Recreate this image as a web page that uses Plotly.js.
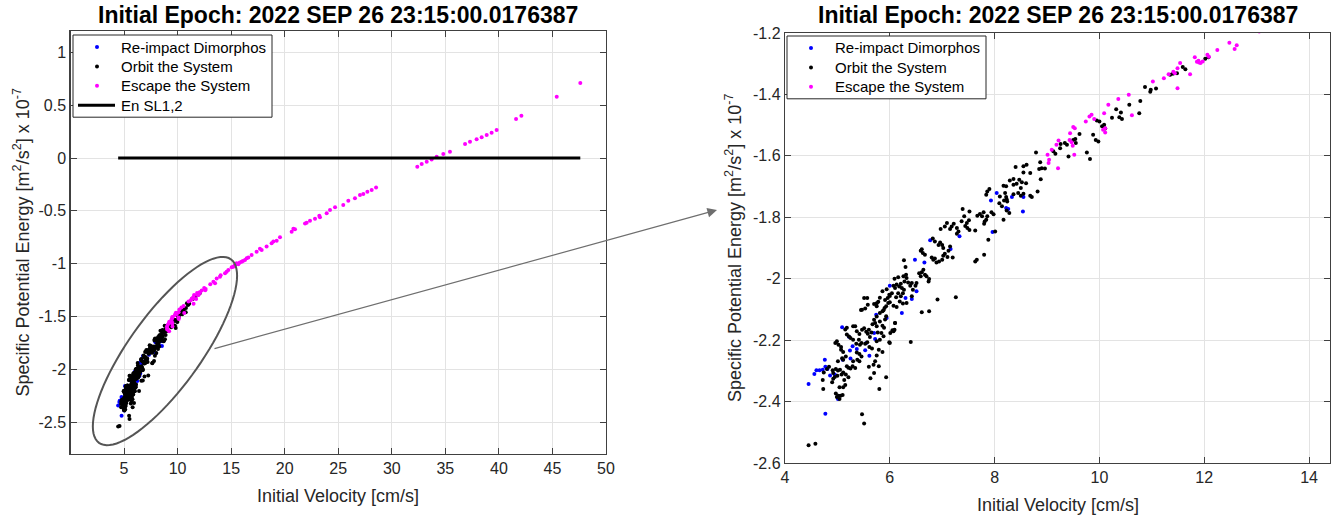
<!DOCTYPE html>
<html>
<head>
<meta charset="utf-8">
<script src="https://cdn.plot.ly/plotly-3.0.1.min.js"></script>
<style>
  html, body { margin: 0; padding: 0; background: #ffffff; }
  #chart { width: 1334px; height: 519px; }
</style>
</head>
<body>
<div id="chart"></div>
<script>
// Initial velocity [cm/s] vs specific potential energy [m^2/s^2] x 1e-7

// Ejecta that re-impact Dimorphos
const reimpactPoints = [
  [4.45,-2.343],[4.56,-2.310],[4.60,-2.298],[4.66,-2.298],[4.72,-2.296],[4.77,-2.287],[4.81,-2.294],
  [4.86,-2.315],[4.76,-2.264],[4.77,-2.440],[5.01,-2.392],[4.95,-2.312],[5.10,-2.264],[5.25,-2.260],
  [5.24,-2.234],[5.29,-2.220],[5.09,-2.158],[5.22,-2.189],[5.37,-2.229],[5.55,-2.209],[5.61,-2.251],
  [5.53,-2.233],[5.72,-2.196],[5.74,-2.117],[5.94,-2.128],[5.70,-2.177],
  [6.77,-1.875],[6.48,-1.938],[6.66,-1.947],[7.33,-1.862],[7.16,-1.903],[6.00,-2.023],[6.30,-2.063],
  [6.42,-2.066],[6.51,-2.041],[6.23,-2.112],[8.04,-1.721],[7.93,-1.745],[7.96,-1.848],[8.26,-1.773],
  [8.33,-1.734],[8.55,-1.734],[8.22,-1.770],[8.54,-1.781]
];

// Ejecta that stay in orbit around the system
const orbitPoints = [
  [4.45,-2.542],[4.58,-2.537],[5.47,-2.441],[5.51,-2.471],[5.80,-2.359],[4.73,-2.359],[4.72,-2.330],
  [4.97,-2.374],[5.02,-2.381],[5.06,-2.381],[4.99,-2.385],[5.04,-2.392],[5.10,-2.379],[5.11,-2.353],
  [5.15,-2.346],[5.04,-2.353],[4.90,-2.337],[4.92,-2.326],[4.95,-2.320],[5.00,-2.316],[5.08,-2.312],
  [5.16,-2.312],[5.21,-2.321],[5.13,-2.330],[5.63,-2.324],[5.70,-2.307],[5.79,-2.285],[5.93,-2.321],
  [5.18,-2.285],[5.21,-2.290],[5.25,-2.292],[5.29,-2.285],[5.30,-2.269],[5.34,-2.291],[5.01,-2.299],
  [5.05,-2.296],[5.11,-2.305],[4.91,-2.298],[4.97,-2.294],[4.74,-2.305],[4.80,-2.294],[4.84,-2.287],
  [4.92,-2.307],[5.09,-2.259],[5.11,-2.264],[5.16,-2.253],[5.01,-2.269],[5.38,-2.264],[5.42,-2.269],
  [5.37,-2.240],[5.42,-2.245],[5.46,-2.253],[5.60,-2.287],[5.69,-2.280],[5.46,-2.209],[5.53,-2.212],
  [5.57,-2.207],[5.61,-2.222],[5.66,-2.227],[5.36,-2.212],[5.43,-2.215],[5.41,-2.199],[5.75,-2.204],
  [5.81,-2.199],[5.79,-2.231],[5.75,-2.250],[5.72,-2.269],[5.86,-2.239],[6.00,-2.209],[4.96,-2.209],
  [4.99,-2.204],[5.07,-2.231],[5.11,-2.239],[5.34,-2.155],[5.37,-2.171],[5.42,-2.180],[5.47,-2.166],
  [5.51,-2.161],[5.55,-2.173],[5.58,-2.179],[5.62,-2.190],[5.60,-2.166],[5.67,-2.148],[5.72,-2.144],
  [5.75,-2.155],[5.65,-2.175],[5.77,-2.175],[5.84,-2.177],[6.01,-2.177],[6.05,-2.168],[6.10,-2.144],
  [5.70,-2.134],[5.75,-2.123],[5.81,-2.112],[5.88,-2.103],[5.93,-2.090],[5.97,-2.079],[6.07,-2.088],
  [6.13,-2.092],[6.00,-2.056],[5.96,-2.063],[5.91,-2.069],[5.75,-2.090],[5.78,-2.075],[5.81,-2.062],
  [5.70,-2.082],[5.47,-2.101],[5.53,-2.097],[5.58,-2.085],[5.57,-2.063],[5.18,-2.182],[5.22,-2.188],
  [5.25,-2.193],[5.30,-2.199],[5.07,-2.222],[5.02,-2.215],[5.45,-2.102],[5.51,-2.063],[5.75,-2.080],
  [5.86,-2.041],[5.94,-2.034],[5.18,-2.160],[5.30,-2.155],[5.15,-2.165],
  [5.99,-2.207],[6.40,-2.206],[6.07,-2.171],[6.09,-2.166],[6.10,-2.144],[5.86,-2.153],[5.89,-2.160],
  [5.81,-2.139],[5.93,-2.122],[5.91,-2.133],[5.86,-2.106],[5.90,-2.095],[6.00,-2.077],[5.99,-2.052],
  [6.04,-2.047],[6.12,-2.060],[6.16,-2.047],[6.21,-2.057],[6.25,-2.047],[6.27,-2.036],[6.07,-2.023],
  [6.10,-2.030],[6.13,-2.019],[6.18,-2.025],[6.21,-2.016],[6.23,-2.030],[6.09,-2.000],[6.16,-1.995],
  [6.26,-1.992],[6.32,-1.998],[6.31,-1.987],[6.28,-2.009],[6.35,-2.012],[6.39,-2.023],[6.42,-2.014],
  [6.44,-2.036],[6.49,-2.023],[6.51,-2.014],[6.56,-1.982],[6.61,-1.979],[6.59,-1.992],[6.70,-1.992],
  [6.75,-2.001],[6.74,-2.009],[6.30,-1.962],[6.27,-1.940],[6.42,-2.057],[6.32,-2.079],[6.25,-2.081],
  [6.19,-2.074],[6.91,-2.068],[7.26,-2.060],[6.61,-2.109],[6.75,-2.106],[5.88,-2.187],[6.59,-1.909],
  [6.63,-1.916],[6.67,-1.922],[6.61,-1.904],[6.80,-1.931],[6.83,-1.938],[6.86,-1.934],[6.89,-1.947],
  [6.94,-1.944],[7.02,-1.925],[7.05,-1.919],[7.10,-1.929],[7.00,-1.938],[6.96,-1.882],[7.00,-1.890],
  [7.02,-1.900],[6.82,-1.869],[6.86,-1.879],[6.93,-1.890],[7.12,-1.909],[7.15,-1.895],[7.20,-1.931],
  [7.15,-1.838],[7.18,-1.830],[7.22,-1.821],[7.28,-1.835],[7.28,-1.854],[7.31,-1.846],[7.37,-1.813],
  [7.44,-1.828],[7.48,-1.835],[7.52,-1.841],[7.47,-1.819],[7.51,-1.810],[7.42,-1.797],[7.63,-1.843],
  [7.39,-1.773],[7.52,-1.781],[7.67,-1.795],[7.72,-1.789],[7.79,-1.784],[7.76,-1.797],[7.81,-1.814],
  [7.84,-1.808],[7.86,-1.797],[7.80,-1.821],[7.88,-1.873],[8.01,-1.846],[7.86,-1.716],[7.90,-1.708],
  [7.84,-1.727],[7.66,-1.938],[7.63,-1.944],[7.80,-1.922],[7.98,-1.790],[7.94,-1.784],[8.23,-1.741],
  [8.18,-1.745],[6.97,-1.838],[7.09,-1.819],[7.05,-1.830],[6.64,-1.971],[6.67,-1.987],
  [8.79,-1.589],[8.87,-1.621],[8.90,-1.640],[8.85,-1.643],[8.96,-1.641],[9.12,-1.585],[9.16,-1.593],
  [9.25,-1.575],[9.26,-1.561],[9.34,-1.558],[9.38,-1.564],[9.50,-1.548],[9.55,-1.558],[9.54,-1.545],
  [9.41,-1.602],[9.76,-1.589],[9.82,-1.610],[8.88,-1.676],[8.55,-1.634],[8.61,-1.629],[8.55,-1.654],
  [8.52,-1.686],[8.60,-1.689],[8.47,-1.678],[8.40,-1.636],[8.36,-1.675],[8.29,-1.680],[8.22,-1.699],
  [8.17,-1.697],[8.36,-1.694],[8.42,-1.691],[8.45,-1.721],[8.50,-1.730],[8.55,-1.723],[8.68,-1.730],
  [8.71,-1.734],[8.82,-1.716],[8.10,-1.732],[8.20,-1.721],[8.22,-1.734],[8.09,-1.754],[8.14,-1.764],
  [8.28,-1.786],[9.88,-1.531],[9.93,-1.548],[9.98,-1.553],[8.68,-1.656],[8.50,-1.705],[8.36,-1.725],
  [8.24,-1.749],[8.23,-1.778],[8.17,-1.808],[9.62,-1.529],
  [9.95,-1.485],[10.00,-1.488],[10.05,-1.504],[10.09,-1.499],[10.11,-1.511],[10.24,-1.476],[10.32,-1.448],
  [10.41,-1.459],[10.38,-1.474],[10.43,-1.480],[10.57,-1.434],[10.76,-1.461],[10.78,-1.421],[10.87,-1.376],
  [10.97,-1.391],[10.98,-1.385],[11.08,-1.381],[11.35,-1.336],[11.40,-1.333],[11.48,-1.331],[11.59,-1.311],
  [11.64,-1.318],[12.02,-1.284],[12.08,-1.279]
];

// Ejecta that escape the system
const escapePoints = [
  [9.01,-1.596],[9.04,-1.613],[9.03,-1.623],[9.09,-1.580],[9.18,-1.564],[9.22,-1.550],[9.44,-1.526],
  [9.43,-1.548],[9.50,-1.506],[9.53,-1.510],[9.49,-1.567],[9.52,-1.596],[9.47,-1.556],[9.21,-1.640],
  [9.74,-1.488],[9.81,-1.472],[9.85,-1.466],[9.90,-1.480],[10.07,-1.515],[10.11,-1.524],[10.11,-1.510],
  [10.09,-1.461],[10.17,-1.434],[10.36,-1.415],[10.56,-1.401],[10.62,-1.468],[11.02,-1.358],[11.23,-1.347],
  [11.32,-1.334],[11.41,-1.326],[11.44,-1.331],[11.49,-1.315],[11.54,-1.298],[11.73,-1.334],[11.49,-1.380],
  [11.82,-1.279],[11.86,-1.294],[11.90,-1.296],[11.93,-1.298],[11.97,-1.293],[11.89,-1.290],[12.06,-1.271],
  [12.09,-1.277],[12.25,-1.255],[12.48,-1.232],[12.58,-1.252],[12.62,-1.240],
  [13.05,-1.195],[13.34,-1.171],[13.50,-1.185],[13.65,-1.140],[13.96,-1.124],[14.02,-1.110],[14.43,-1.092],
  [14.58,-1.076],[14.74,-1.061],[15.05,-1.035],[15.20,-1.029],[15.30,-1.020],[15.40,-1.010],[15.51,-0.997],
  [15.67,-1.005],[15.80,-0.990],[15.98,-0.982],[16.10,-0.975],[16.29,-0.966],[16.45,-0.950],[16.60,-0.941],
  [16.91,-0.918],[17.38,-0.887],[17.69,-0.860],[17.85,-0.871],[18.31,-0.838],[18.78,-0.808],[18.94,-0.790],
  [19.25,-0.783],[19.56,-0.751],[20.65,-0.698],[20.81,-0.670],[20.96,-0.675],[21.90,-0.619],[22.05,-0.612],
  [22.36,-0.593],[22.83,-0.575],[23.23,-0.546],[23.29,-0.562],[23.92,-0.524],[24.23,-0.493],[24.70,-0.467],
  [25.47,-0.445],[25.94,-0.404],[26.56,-0.382],[27.03,-0.351],[27.34,-0.341],[27.72,-0.319],[28.12,-0.303],
  [28.53,-0.278],[32.38,-0.082],[32.79,-0.057],[33.26,-0.035],[33.72,-0.013],[34.19,0.012],[34.81,0.038],
  [35.43,0.060],[36.84,0.132],[37.30,0.155],[37.92,0.177],[38.39,0.196],[38.86,0.218],[39.32,0.240],
  [39.79,0.265],[41.60,0.370],[42.10,0.400],[45.40,0.580],[47.60,0.710]
];

// Energy level of the SL1,2 Lagrange points (same scale)
const enSL12 = 0;

const epochTitle = 'Initial Epoch: 2022 SEP 26 23:15:00.0176387';
const xLabel = 'Initial Velocity [cm/s]';
const yLabel = 'Specific Potential Energy [m<sup>2</sup>/s<sup>2</sup>] x 10<sup>-7</sup>';
const seriesNames = ['Re-impact Dimorphos', 'Orbit the System', 'Escape the System', 'En SL1,2'];

const leftXTicks = [5, 10, 15, 20, 25, 30, 35, 40, 45, 50];
const leftYTicks = [-2.5, -2, -1.5, -1, -0.5, 0, 0.5, 1];
const rightXTicks = [4, 6, 8, 10, 12, 14];
const rightYTicks = [-2.6, -2.4, -2.2, -2, -1.8, -1.6, -1.4, -1.2];

// ---- page geometry ----
const W = 1334, H = 519;
const FONT = 'Liberation Sans, Arial, Helvetica, sans-serif';
const INK = '#262626';

const leftRangeX = [0, 50], leftRangeY = [-2.8, 1.2];
const rightRangeX = [4, 14.4], rightRangeY = [-2.6, -1.2];
const leftBox = {x0: 70.5, x1: 606, y0: 31.3, y1: 453.7};
const rightBox = {x0: 785, x1: 1330, y0: 33, y1: 463};
const px = v => v / W;
const py = v => 1 - v / H;

const col = (arr, i) => arr.map(p => p[i]);
const allV = [].concat(col(reimpactPoints, 0), col(orbitPoints, 0), col(escapePoints, 0));
const vMin = Math.min(...allV), vMax = Math.max(...allV);

const colors = {reimpact: '#0000ff', orbit: '#000000', escape: '#ff00ff', level: '#000000'};

function dots(points, name, color, xa, ya) {
  return {
    type: 'scatter', mode: 'markers', name: name, showlegend: false,
    x: col(points, 0), y: col(points, 1), xaxis: xa, yaxis: ya,
    marker: {color: color, size: 4, line: {width: 0}},
    hoverinfo: 'skip'
  };
}

const traces = [
  dots(reimpactPoints, seriesNames[0], colors.reimpact, 'x', 'y'),
  dots(orbitPoints, seriesNames[1], colors.orbit, 'x', 'y'),
  dots(escapePoints, seriesNames[2], colors.escape, 'x', 'y'),
  {
    type: 'scatter', mode: 'lines', name: seriesNames[3], showlegend: false,
    x: [vMin, vMax], y: [enSL12, enSL12], xaxis: 'x', yaxis: 'y',
    line: {color: colors.level, width: 3}, hoverinfo: 'skip'
  },
  dots(reimpactPoints, seriesNames[0], colors.reimpact, 'x2', 'y2'),
  dots(orbitPoints, seriesNames[1], colors.orbit, 'x2', 'y2'),
  dots(escapePoints, seriesNames[2], colors.escape, 'x2', 'y2')
];

function axis(range, ticks, domain, anchor) {
  return {
    range: range, domain: domain, anchor: anchor,
    tickmode: 'array', tickvals: ticks, ticktext: ticks.map(String),
    ticks: 'inside', ticklen: 6, tickwidth: 1, tickcolor: '#404040',
    showline: true, linecolor: '#404040', linewidth: 1.2, mirror: 'allticks',
    showgrid: true, gridcolor: '#e3e3e3', gridwidth: 1,
    zeroline: false, fixedrange: true,
    tickfont: {family: FONT, size: 16, color: INK}
  };
}

// zoom ellipse drawn around the low-velocity cluster (center in data units, radii in px)
const ellipse = {cx: 8.82, cy: -1.828, a: 113, b: 36, tiltDeg: 54.3};
function ellipsePath() {
  const kx = (leftBox.x1 - leftBox.x0) / (leftRangeX[1] - leftRangeX[0]);
  const ky = (leftBox.y1 - leftBox.y0) / (leftRangeY[1] - leftRangeY[0]);
  const t = ellipse.tiltDeg * Math.PI / 180;
  const n = 90;
  let d = '';
  for (let i = 0; i <= n; i++) {
    const s = 2 * Math.PI * i / n;
    const u = ellipse.a * Math.cos(s), v = ellipse.b * Math.sin(s);
    const dx = u * Math.cos(t) - v * Math.sin(t);
    const dy = u * Math.sin(t) + v * Math.cos(t);
    d += (i ? ' L ' : 'M ') + (ellipse.cx + dx / kx).toFixed(4) + ',' + (ellipse.cy + dy / ky).toFixed(4);
  }
  return d + ' Z';
}

const arrowTail = {x: 213, y: 349}, arrowHead = {x: 717, y: 210};

function label(text, x, y, size, opts) {
  return Object.assign({
    text: text, x: px(x), y: py(y), xref: 'paper', yref: 'paper',
    xanchor: 'center', yanchor: 'middle', showarrow: false,
    font: {family: FONT, size: size, color: INK}
  }, opts || {});
}

// boxed legend: dot / line swatch followed by the series name
function legendBox(left, top, entries) {
  const rowH = 19.4, pad = 12, width = 199;
  const height = pad * 2 + rowH * (entries.length - 1);
  const shapes = [{
    type: 'rect', xref: 'paper', yref: 'paper', layer: 'above',
    x0: px(left), x1: px(left + width), y0: py(top + height), y1: py(top),
    line: {color: INK, width: 1}, fillcolor: '#ffffff'
  }];
  const notes = [];
  entries.forEach((e, i) => {
    const yc = top + pad + i * rowH;
    if (e.line) {
      shapes.push({type: 'line', xref: 'paper', yref: 'paper', layer: 'above',
        x0: px(left + 5), x1: px(left + 42), y0: py(yc), y1: py(yc),
        line: {color: e.color, width: 3}});
    } else {
      shapes.push({type: 'circle', xref: 'paper', yref: 'paper', layer: 'above',
        x0: px(left + 22), x1: px(left + 26), y0: py(yc + 2), y1: py(yc - 2),
        fillcolor: e.color, line: {width: 0}});
    }
    notes.push(label(e.name, left + 46, yc, 15, {xanchor: 'left', font: {family: FONT, size: 15, color: '#000000'}}));
  });
  return {shapes: shapes, notes: notes};
}

const leftLegend = legendBox(73, 35, [
  {name: seriesNames[0], color: colors.reimpact},
  {name: seriesNames[1], color: colors.orbit},
  {name: seriesNames[2], color: colors.escape},
  {name: seriesNames[3], color: colors.level, line: true}
]);
const rightLegend = legendBox(787, 36, [
  {name: seriesNames[0], color: colors.reimpact},
  {name: seriesNames[1], color: colors.orbit},
  {name: seriesNames[2], color: colors.escape}
]);

const titleFont = {family: FONT, size: 23, color: '#000000', weight: 'bold'};

const layout = {
  width: W, height: H,
  margin: {l: 0, r: 0, t: 0, b: 0},
  paper_bgcolor: '#ffffff', plot_bgcolor: '#ffffff',
  showlegend: false,
  xaxis: axis(leftRangeX, leftXTicks, [px(leftBox.x0), px(leftBox.x1)], 'y'),
  yaxis: axis(leftRangeY, leftYTicks, [py(leftBox.y1), py(leftBox.y0)], 'x'),
  xaxis2: axis(rightRangeX, rightXTicks, [px(rightBox.x0), px(rightBox.x1)], 'y2'),
  yaxis2: axis(rightRangeY, rightYTicks, [py(rightBox.y1), py(rightBox.y0)], 'x2'),
  shapes: [{
    type: 'path', xref: 'x', yref: 'y', path: ellipsePath(),
    line: {color: '#555555', width: 2}, fillcolor: 'rgba(0,0,0,0)'
  }].concat(leftLegend.shapes, rightLegend.shapes),
  annotations: [
    label(epochTitle, (leftBox.x0 + leftBox.x1) / 2, 15, 23, {font: titleFont}),
    label(epochTitle, (rightBox.x0 + rightBox.x1) / 2, 15, 23, {font: titleFont}),
    label(xLabel, (leftBox.x0 + leftBox.x1) / 2, 496, 18),
    label(xLabel, (rightBox.x0 + rightBox.x1) / 2, 505, 18),
    label(yLabel, 22, (leftBox.y0 + leftBox.y1) / 2, 18, {textangle: -90}),
    label(yLabel, 733, (rightBox.y0 + rightBox.y1) / 2, 18, {textangle: -90}),
    {
      text: '', xref: 'paper', yref: 'paper', x: px(arrowHead.x), y: py(arrowHead.y),
      showarrow: true, axref: 'pixel', ayref: 'pixel',
      ax: arrowTail.x - arrowHead.x, ay: arrowTail.y - arrowHead.y,
      arrowhead: 2, arrowsize: 1.6, arrowwidth: 1.2, arrowcolor: '#6e6e6e', standoff: 0
    }
  ].concat(leftLegend.notes, rightLegend.notes)
};

Plotly.newPlot('chart', traces, layout, {staticPlot: true, displayModeBar: false});
</script>
</body>
</html>
